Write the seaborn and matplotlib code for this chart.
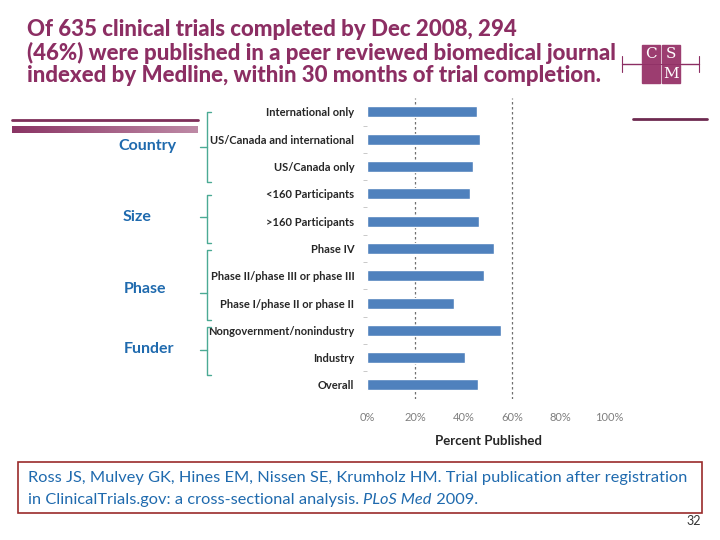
import matplotlib
matplotlib.use("Agg")
import matplotlib.pyplot as plt
import numpy as np
import seaborn as sns

# data (percent published)
categories = ["International only", "US/Canada and international", "US/Canada only",
              "<160 Participants", ">160 Participants", "Phase IV",
              "Phase II/phase III or phase III", "Phase I/phase II or phase II",
              "Nongovernment/nonindustry", "Industry", "Overall"]
percent_published = [45.3, 46.7, 43.7, 42.6, 46.2, 52.5, 48.3, 36.0, 55.4, 40.5, 45.9]
x_ticks = [0, 20, 40, 60, 80, 100]
groups = ["Country", "Size", "Phase", "Funder"]

title_lines = ["Of 635 clinical trials completed by Dec 2008, 294",
               "(46%) were published in a peer reviewed biomedical journal",
               "indexed by Medline, within 30 months of trial completion."]

sns.set_style("white")
plt.rcParams["font.family"] = ["Lato", "DejaVu Sans"]

purple = "#8C2E63"
bar_blue = "#4F81BD"
label_blue = "#1F6AAE"
teal = "#4BAA94"

fig = plt.figure(figsize=(7.2, 5.4), dpi=100)
W, H = 720, 540

# main chart
ax = fig.add_axes([367 / W, 1 - 398.6 / H, 242 / W, 300.3 / H])
sns.barplot(x=percent_published, y=categories, color=bar_blue, width=0.4,
            saturation=1, orient="h", ax=ax)
ax.set_xlim(0, 100)
ax.set_ylim(10.5, -0.5)
ax.set_xticks(x_ticks)
ax.set_xticklabels([f"{t}%" for t in x_ticks], color="#7f7f7f", fontsize=8)
ax.set_yticks(range(len(categories)))
ax.set_yticklabels(categories, fontsize=8, fontweight="bold")
ax.set_yticks(np.arange(0.5, 10, 1), minor=True)
ax.tick_params(axis="y", which="major", length=0, pad=9)
ax.tick_params(axis="y", which="minor", length=3, color="#c0c0c0", left=True)
ax.tick_params(axis="x", length=0, pad=10)
for s in ax.spines.values():
    s.set_visible(False)
for v in [20, 60]:
    ax.axvline(v, color="#707070", lw=0.9, ls=(0, (2, 2)), zorder=0)
ax.set_xlabel("Percent Published", fontsize=9.5, fontweight="bold", labelpad=8)
ax.set_ylabel("")

# overlay in pixel coordinates for the slide decorations
ov = fig.add_axes([0, 0, 1, 1], facecolor="none")
ov.set_xlim(0, W)
ov.set_ylim(H, 0)
ov.axis("off")

for i, line in enumerate(title_lines):
    ov.text(27, 30 + i * 23, line, color=purple, fontsize=16, fontweight="black",
            va="center", ha="left")

# CSM logo
ov.plot([622, 699], [64, 64], color=purple, lw=1)
ov.plot([622, 622], [56, 72], color=purple, lw=0.8)
ov.plot([699, 699], [56, 72], color=purple, lw=0.8)
for (x0, y0, letter) in [(642, 45, "C"), (662, 45, "S"), (642, 65, ""), (662, 65, "M")]:
    ov.add_patch(plt.Rectangle((x0, y0), 18, 18, color="#9C3D70", zorder=3))
    ov.text(x0 + 9, y0 + 9.5, letter, color="white", fontsize=11, family="DejaVu Serif",
            ha="center", va="center", zorder=4)

# left decoration lines
ov.plot([12, 198], [120, 120], color="#7E2F5A", lw=2)
grad = np.linspace(0, 1, 256).reshape(1, -1)
cmap = matplotlib.colors.LinearSegmentedColormap.from_list("g", ["#8A3464", "#BE8AA6"])
ov.imshow(grad, extent=(12, 198, 133, 126), cmap=cmap, aspect="auto")
ov.set_xlim(0, W)
ov.set_ylim(H, 0)
ov.plot([633, 707], [119, 119], color="#6E2A50", lw=2)

# group brackets and labels
bracket = [(112, 182, 147), (195, 243, 217), (250, 320, 293), (327, 375, 350)]
label_pos = [(147, 146), (137, 217), (145, 289), (149, 349)]
for (top, bot, mid), name, (lx, ly) in zip(bracket, groups, label_pos):
    ov.plot([211, 207, 207, 211], [top, top, bot, bot], color=teal, lw=1)
    ov.plot([200, 207], [mid, mid], color=teal, lw=1)
    ov.text(lx, ly, name, color=label_blue, fontsize=11.5, fontweight="bold",
            ha="center", va="center")

# citation box
ov.add_patch(plt.Rectangle((18, 462), 684, 51, fill=False, ec="#9A2B2B", lw=1.2))
ov.text(28, 478, "Ross JS, Mulvey GK, Hines EM, Nissen SE, Krumholz HM. Trial publication after registration",
        color=label_blue, fontsize=11.8, va="center", ha="left")
renderer = fig.canvas.get_renderer()
x = 28
for txt, style in [("in ClinicalTrials.gov: a cross-sectional analysis. ", "normal"),
                   ("PLoS Med", "italic"), (" 2009.", "normal")]:
    t = ov.text(x, 500, txt, color=label_blue, fontsize=11.8, style=style,
                va="center", ha="left")
    bb = t.get_window_extent(renderer)
    x += bb.width
ov.text(701, 521, "32", color="#333333", fontsize=9, ha="right", va="center")

fig.savefig("out.png", dpi=100)
